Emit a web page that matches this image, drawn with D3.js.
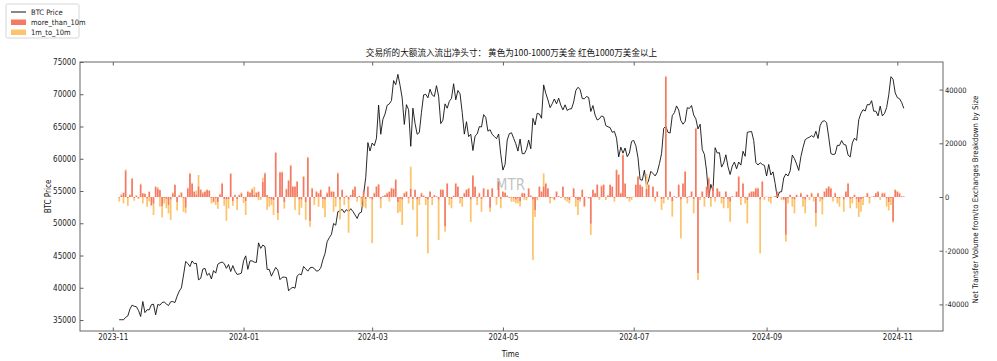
<!DOCTYPE html>
<html>
<head>
<meta charset="utf-8">
<script src="https://cdn.jsdelivr.net/npm/d3@7"></script>
<style>
  body { margin: 0; background: #fff; }
  text { font-family: "Liberation Sans Narrow", "DejaVu Sans Condensed", sans-serif; }
  text.cjk { font-family: "Noto Sans CJK SC", sans-serif; }
</style>
</head>
<body>
<div id="chart"></div>
<script>
// daily data, 2023-11-04 .. 2024-11-04
const startDay = new Date(2023, 10, 4);
const endDay = new Date(2024, 10, 5);

const btcPrice = [
  35050, 35050, 35040, 35420, 35630, 36700, 37310, 37130, 37070, 36490, 35550, 37880, 36150, 36600,
  36580, 37380, 37450, 35810, 37420, 37290, 37720, 37800, 37480, 37250, 37830, 37860, 37710,
  38690, 39480, 39980, 41980, 44080, 43770, 43290, 44170, 43730, 43790,
  41240, 41450, 42890, 43020, 41930, 42240, 41360, 42660, 42270, 43650,
  43870, 43990, 43740, 43020, 43610, 42520, 43440, 42580, 42070, 42140, 42280,
  44180, 44950, 42850, 44180, 44160, 43970, 43930, 46970, 46110, 46630,
  46370, 42850, 42840, 41800, 42510, 43150, 42740, 41260, 41620, 41660,
  41580, 39530, 39890, 40080, 39930, 41820, 42120, 42030, 43300, 42940, 42580,
  43080, 43190, 42990, 42580, 42660, 43090, 44330, 45300, 47150, 47770,
  48290, 49960, 49700, 51800, 51940, 52160, 51660, 52120, 51780, 52260,
  51840, 51300, 50740, 51570, 51730, 54520, 57090, 62500, 61200,
  62440, 62030, 63170, 68330, 63800, 66110, 66930, 68300, 68500, 69020,
  72120, 71480, 73080, 71400, 69400, 65320, 68390, 67600, 61930, 67840,
  65500, 63800, 64070, 67210, 69900, 69990, 69450, 70780, 69890, 69650, 71330,
  69700, 65450, 65980, 68510, 67840, 68900, 69360, 71630, 69140, 70590,
  70060, 67200, 63820, 65740, 63430, 63810, 61280, 63510, 63840, 64990,
  64930, 66840, 66410, 64280, 64500, 63770, 63460, 63120, 63840, 60640,
  58250, 59120, 62890, 63890, 64030, 63160, 62330, 61190, 63050, 60790,
  60790, 61450, 62900, 61550, 66270, 65230, 67050, 66940, 66280, 71450,
  70140, 69120, 67930, 68530, 69270, 68510, 69390, 68300, 67580, 68360, 67490,
  67710, 67750, 68800, 70570, 71080, 70760, 69340, 69300, 69650, 69500,
  67330, 68240, 66760, 66010, 66190, 66640, 66490, 65140, 64960, 64830,
  64100, 64250, 63180, 60280, 61800, 60860, 61670, 60320, 60890, 62680,
  62850, 62030, 60170, 56780, 56660, 58230, 55850, 56710, 58050, 57720,
  57340, 57900, 59230, 60790, 64720, 65040, 64090, 63990, 66680, 67150,
  68190, 67550, 65930, 65360, 65780, 67910, 67810, 68250, 66780, 66190, 64620,
  65350, 61420, 60680, 58120, 53990, 56030, 55030, 61710, 60880, 60940,
  58710, 59350, 60610, 58740, 57560, 58870, 59490, 58440, 59490, 59010,
  61160, 60380, 64100, 64180, 64220, 62830, 59420, 59030, 59380, 59120, 58970,
  57330, 59120, 57480, 57970, 56160, 53950, 54840, 54890, 57020, 57650,
  57340, 58130, 60570, 60010, 59180, 58190, 60310, 61760, 62950, 63200,
  63350, 63580, 63340, 64260, 63140, 65180, 65790, 65890, 65600, 63330,
  60810, 60650, 60750, 62090, 62060, 62820, 62220, 62130, 60580, 60270,
  62450, 63190, 62850, 66050, 67040, 67610, 67400, 68420, 68360, 69000,
  67370, 67370, 66650, 68160, 66640, 67010, 67930, 69910, 72720, 72340, 70220,
  69480, 69310, 68740, 67810
];

const moreThan10m = [
  -300, 700, 1600, 9800, -500, 700, 6700, -400, 500, -500,
  4700, 1400, 1100, -600, 2000, -3000, -2500, 3800, 3200, 2600,
  -3500, -400, -800, -3000, -1000, 1400, 4500, -2000, 600, 1600,
  -600, -4000, 3200, 8600, 5000, 2000, 1000, 4000, 2600, 1400,
  2000, 2600, 2300, -500, -1800, -600, -2000, 1000, 5000, -800,
  -1000, -800, 8600, -1500, 700, -900, 700, 1400, -400, -1500,
  2000, 1600, 2800, 800, 1600, 2000, -300, 5700, 8800, 700,
  -600, -1000, -1200, 16500, -6000, 9200, 9200, -2000, 2900, 6000,
  11700, 3900, 3900, 5700, -1000, -1000, 7500, -2000, 14700, -9000,
  3200, -600, 2000, 1400, 2600, -800, -1000, 1400, 3800, 2000,
  2000, -600, 8800, -1000, 2600, -500, 500, -1000, 700, 2600,
  3800, -400, 400, -600, 2000, -800, 3800, -300, -1000, 1400,
  3800, 4700, -700, 300, 700, 1400, 2000, 3200, 3000, 6300,
  -2000, -700, -1000, 1400, 2000, -500, 3200, -800, 2600, -1000,
  -500, 1400, 500, -500, -1000, 2000, -500, 700, 300, -1000,
  2600, 2600, -11000, 5000, -500, -800, 500, 5000, 3800, -400,
  -600, 1400, 2600, 3200, -1000, 7800, 3800, -500, 1400, -800,
  3200, 200, 2600, -4000, 3200, 100, -500, 5700, -700, 2000,
  1600, 500, -300, -300, -400, -1000, -400, -1500, 1400, 1400,
  -300, 3200, 500, -1000, -5000, -300, 3800, 2000, 4000, 5000,
  3200, -400, -200, -1000, 2000, 300, -300, 3800, -300, -400,
  -1200, 100, 3200, -600, -1200, -1000, 2600, -3500, 100, -500,
  -10000, 2600, 1400, 4500, -300, 4000, 4500, -300, 600, 4500,
  3800, -400, 10000, 8200, 1400, 15600, 5000, -500, -400, -300,
  100, 4500, 7500, 4500, 3800, 100, 3000, 4500, 100, 3800,
  -500, 2000, 100, -800, -600, 44800, -300, 2000, -1500, 300,
  -300, 4500, -1000, 5000, 9400, -500, 300, 2000, -800, 25500,
  -28400, -300, 2000, -600, 3800, 7000, -600, 3800, -300, 3200,
  2000, -400, -700, 2000, -700, -1800, 300, 100, 2000, 7600,
  -500, 5000, -400, -1200, 1400, 2000, 2000, 3200, 3200, -1000,
  5700, -300, 100, -300, -400, 100, 300, 2000, 100, -200,
  -1000, -14100, -400, 800, -600, -1000, 800, 100, 1400, -600,
  -1000, 800, -200, 1400, -300, -6000, 1400, -300, -1000, 2000,
  3200, 3800, 3200, -300, 1400, -400, -600, 100, -1000, 2000,
  5000, -700, -400, 800, -700, -2000, -900, -500, 100, 1400,
  -400, 100, 300, 1400, 2000, -200, 1400, 1400, -600, -2000,
  -500, -9200, 2600, 2000, 1400, 300, 200
];

const oneTo10m = [
  -1400, 300, -2400, 500, -2800, 300, 400, -1000, 200, -300,
  300, -2400, 300, -3000, -1700, -400, -4200, 200, 400, -3600,
  -4100, -2000, -3400, -3100, -7600, 300, 200, -3000, 200, 300,
  -4900, -2000, 300, 400, 300, 200, 1500, 4200, 300, 400,
  300, 200, 300, -1900, -300, -2400, -2400, 200, 300, -2500,
  -7900, -3500, 300, -1800, 200, -3900, 200, 300, -1800, -5200,
  300, 200, 400, 3000, 200, -1200, -800, 1500, 300, -4800,
  -3000, -2000, -5500, 300, -2600, 200, 300, -2300, 200, 400,
  300, 200, -4800, 300, -5700, -3000, 300, -6500, 300, -2100,
  200, -2400, 300, -3600, 200, -3400, -6500, 300, 200, 300,
  -5500, -3000, 300, -7400, 200, -2500, 100, -12300, 200, 300,
  200, -1300, 100, -3000, -3600, -3400, 300, -300, -16200, 200,
  300, 200, -3500, 0, 100, 200, -1700, 300, 200, 400,
  -4000, -4800, -9400, 200, 200, -1900, 8100, -4000, 200, -13800,
  -2500, 200, 100, -2500, -20000, 300, -2500, 100, 0, -15000,
  300, 200, -1900, 300, -2500, -3400, 0, 300, 200, -2000,
  -3000, 200, 300, 200, -8300, 400, 200, -2500, 200, -4700,
  200, 0, 300, -1500, 200, 0, -2500, 300, -3500, 200,
  200, 100, 0, -1500, -1300, -1300, -2000, -2000, 200, -1000,
  -900, 200, 100, -22400, -2400, -900, 200, 300, 4800, 300,
  200, -2000, -300, -200, 200, 0, 0, 200, -900, -1300,
  -1200, 0, 200, -3000, -5500, -800, 200, -300, 0, 0,
  -4100, 200, 200, 300, -800, 300, 200, -800, 100, 200,
  200, -1300, 300, 300, 200, 300, 200, 0, -1300, -800,
  0, 200, 300, 200, 200, 0, 5600, 200, 0, 200,
  -1200, 200, 0, -4000, -1800, 300, -800, 200, -5800, 0,
  0, 200, -14400, 200, 300, -1900, 0, 200, -5300, 300,
  -2500, -800, 200, -3000, 200, 300, -3000, 200, -1400, 200,
  200, -2000, -3500, 200, -3500, -7400, 0, 0, 200, 300,
  -2500, 300, -2000, -8600, 200, 200, 200, 300, 300, -20000,
  300, -800, 0, -1400, -2000, 0, 0, 200, 0, -900,
  -200, -2500, -2000, 100, -3000, -5100, 100, 0, 200, -3000,
  -5100, 100, -900, 200, -1400, -5000, 200, -1400, -5500, 200,
  200, 300, 200, -1400, 200, -2000, -3000, 0, -4500, 200,
  300, -3500, -2000, 100, -3500, -5400, -4600, -2500, 0, 200,
  -2000, 0, 0, 200, 200, -900, 200, 200, -3000, -3000,
  -2500, -300, 200, 300, 200, 0, 100
];

const xTickLabels = ["2023-11", "2024-01", "2024-03", "2024-05", "2024-07", "2024-09", "2024-11"];
const priceTicks = [35000, 40000, 45000, 50000, 55000, 60000, 65000, 70000, 75000];
const flowTicks = [-40000, -20000, 0, 20000, 40000];
const seriesKeys = ["more_than_10m", "1m_to_10m"];
const seriesColors = { "more_than_10m": "#f47a64", "1m_to_10m": "#fdc46e" };

const W = 997, H = 361;
const margin = { top: 62, right: 54, bottom: 30, left: 80 };
const iw = W - margin.left - margin.right, ih = H - margin.top - margin.bottom;

const dates = d3.timeDay.range(startDay, endDay);
const table = dates.map((d, i) => ({
  date: d, price: btcPrice[i],
  "more_than_10m": moreThan10m[i], "1m_to_10m": oneTo10m[i]
}));

const svg = d3.select('#chart').append('svg')
  .attr('width', W).attr('height', H);

const g = svg.append('g').attr('transform', `translate(${margin.left},${margin.top})`);

// matplotlib-like 5% margins on the time axis
const span = dates[dates.length - 1] - dates[0];
const x = d3.scaleTime()
  .domain([new Date(+dates[0] - span * 0.05), new Date(+dates[dates.length - 1] + span * 0.05)])
  .range([0, iw]);
const yPrice = d3.scaleLinear().domain([33300, 75000]).range([ih, 0]);
const yFlow = d3.scaleLinear().domain([-49900, 50280]).range([ih, 0]);

// price line
g.append('path')
  .datum(table)
  .attr('fill', 'none')
  .attr('stroke', '#111')
  .attr('stroke-width', 0.9)
  .attr('d', d3.line().x(d => x(d.date)).y(d => yPrice(d.price)));

// stacked bars (pos / neg stacked separately)
const stacked = d3.stack().keys(seriesKeys).offset(d3.stackOffsetDiverging)(table);
const barW = 1.75;
g.append('g').selectAll('g')
  .data(stacked)
  .join('g')
  .attr('fill', s => seriesColors[s.key])
  .selectAll('rect')
  .data(s => s)
  .join('rect')
  .attr('x', d => x(d.data.date) - barW / 2)
  .attr('y', d => yFlow(Math.max(d[0], d[1])))
  .attr('width', barW)
  .attr('height', d => Math.abs(yFlow(d[0]) - yFlow(d[1])));

// watermark
g.append('text')
  .attr('x', iw / 2 - 1).attr('y', 128)
  .attr('text-anchor', 'middle')
  .attr('font-size', 15)
  .attr('fill', '#999').attr('fill-opacity', 0.6)
  .text('MTR');

// axes
const fmt = d3.timeFormat('%Y-%m');
const xTickDates = xTickLabels.map(s => d3.timeParse('%Y-%m')(s));

const xAxis = g.append('g').attr('transform', `translate(0,${ih})`)
  .call(d3.axisBottom(x).tickValues(xTickDates).tickFormat(fmt).tickSizeInner(-3.5).tickSizeOuter(0).tickPadding(3));
const xTop = g.append('g')
  .call(d3.axisTop(x).tickValues(xTickDates).tickFormat('').tickSizeInner(-3.5).tickSizeOuter(0));
const yl = g.append('g')
  .call(d3.axisLeft(yPrice).tickValues(priceTicks).tickFormat(d3.format('d')).tickSizeInner(-3.5).tickSizeOuter(0).tickPadding(4));
const yr = g.append('g').attr('transform', `translate(${iw},0)`)
  .call(d3.axisRight(yFlow).tickValues(flowTicks).tickFormat(d3.format('d')).tickSizeInner(-3.5).tickSizeOuter(0).tickPadding(2));

[xAxis, xTop, yl, yr].forEach(a => {
  a.select('.domain').remove();
  a.selectAll('line').attr('stroke', '#333').attr('stroke-width', 0.8);
  a.selectAll('text').attr('font-size', 8).attr('fill', '#222');
});
yr.selectAll('text').attr('font-size', 7.5).text(d => d < 0 ? '-' + Math.abs(d) : d);

// frame
g.append('rect')
  .attr('width', iw).attr('height', ih)
  .attr('fill', 'none').attr('stroke', '#666').attr('stroke-width', 1);

// titles
svg.append('text').attr('class', 'cjk')
  .attr('x', margin.left + iw / 2).attr('y', 56)
  .attr('text-anchor', 'middle').attr('font-size', 8.6).attr('fill', '#111')
  .text('交易所的大额流入流出净头寸：  黄色为100-1000万美金 红色1000万美金以上');
svg.append('text')
  .attr('x', margin.left + iw / 2 - 1).attr('y', 357)
  .attr('text-anchor', 'middle').attr('font-size', 8).attr('fill', '#111')
  .text('Time');
svg.append('text')
  .attr('transform', `translate(51,${margin.top + ih / 2}) rotate(-90)`)
  .attr('text-anchor', 'middle').attr('font-size', 8).attr('fill', '#111')
  .text('BTC Price');
svg.append('text')
  .attr('transform', `translate(978,${margin.top + ih / 2 + 3}) rotate(-90)`)
  .attr('text-anchor', 'middle').attr('font-size', 7.8).attr('fill', '#111')
  .text('Net Transfer Volume from/to Exchanges Breakdown by Size');

// legend
const lg = svg.append('g').attr('transform', 'translate(6,4)');
lg.append('rect').attr('width', 73).attr('height', 34)
  .attr('fill', '#fff').attr('stroke', '#ccc').attr('stroke-width', 0.8).attr('rx', 1.5);
const legendItems = [
  { label: 'BTC Price', type: 'line', color: '#111' },
  { label: 'more_than_10m', type: 'patch', color: seriesColors['more_than_10m'] },
  { label: '1m_to_10m', type: 'patch', color: seriesColors['1m_to_10m'] }
];
legendItems.forEach((it, i) => {
  const yy = 8 + i * 10;
  if (it.type === 'line') {
    lg.append('line').attr('x1', 5).attr('x2', 20).attr('y1', yy).attr('y2', yy)
      .attr('stroke', it.color).attr('stroke-width', 1);
  } else {
    lg.append('rect').attr('x', 5).attr('y', yy - 2.5).attr('width', 15).attr('height', 5.5)
      .attr('fill', it.color);
  }
  lg.append('text').attr('x', 25).attr('y', yy + 2.5)
    .attr('font-size', 7.5).attr('fill', '#222').text(it.label);
});
</script>
</body>
</html>
